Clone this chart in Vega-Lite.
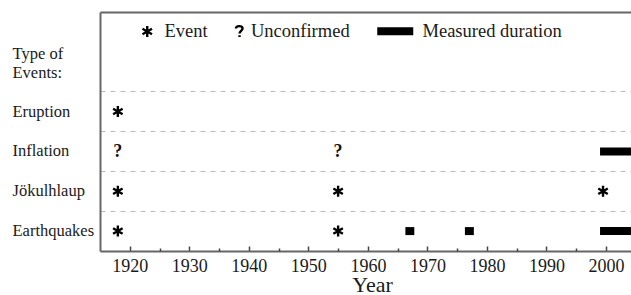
{
  "$schema": "https://vega.github.io/schema/vega-lite/v6.json",
  "autosize": {"type": "none"},
  "padding": {"left": 100, "top": 12, "right": 0, "bottom": 44},
  "width": 531,
  "height": 239,
  "datasets": {
    "events": [
      {"type": "Eruption", "year": 1918, "kind": "Event"},
      {"type": "Jökulhlaup", "year": 1918, "kind": "Event"},
      {"type": "Earthquakes", "year": 1918, "kind": "Event"},
      {"type": "Jökulhlaup", "year": 1955, "kind": "Event"},
      {"type": "Earthquakes", "year": 1955, "kind": "Event"},
      {"type": "Jökulhlaup", "year": 1999.5, "kind": "Event"}
    ],
    "unconfirmed": [
      {"type": "Inflation", "year": 1918, "kind": "Unconfirmed"},
      {"type": "Inflation", "year": 1955, "kind": "Unconfirmed"}
    ],
    "durations": [
      {"type": "Inflation", "start": 1999, "end": 2005, "kind": "Measured duration"},
      {"type": "Earthquakes", "start": 1966.3, "end": 1967.8, "kind": "Measured duration"},
      {"type": "Earthquakes", "start": 1976.3, "end": 1977.8, "kind": "Measured duration"},
      {"type": "Earthquakes", "start": 1999, "end": 2005, "kind": "Measured duration"}
    ]
  },
  "layer": [
    {
      "data": {"name": "events"},
      "mark": {"type": "point", "filled": false, "strokeWidth": 2.4, "color": "black", "size": 121, "opacity": 1},
      "encoding": {
        "x": {
          "field": "year", "type": "quantitative",
          "scale": {"domain": [1915, 2004.2], "nice": false, "zero": false},
          "axis": {
            "orient": "bottom",
            "values": [1920, 1930, 1940, 1950, 1960, 1970, 1980, 1990, 2000],
            "format": "d",
            "grid": false,
            "tickSize": -5, "tickColor": "#444", "tickWidth": 1.5,
            "domainColor": "#666", "domainWidth": 2,
            "labelFont": "Liberation Serif", "labelFontSize": 18, "labelColor": "#1a1a1a",
            "labelPadding": 11,
            "title": "Year", "titleFont": "Liberation Serif", "titleFontSize": 22, "titleFontWeight": "normal",
            "titleColor": "#1a1a1a", "titleX": 272, "titleY": 40.5, "titleBaseline": "alphabetic"
          }
        },
        "y": {
          "field": "type", "type": "nominal",
          "scale": {"type": "band", "domain": ["legend", "heading", "Eruption", "Inflation", "Jökulhlaup", "Earthquakes"], "paddingInner": 0, "paddingOuter": 0},
          "axis": {
            "values": ["Eruption", "Inflation", "Jökulhlaup", "Earthquakes"],
            "bandPosition": 0,
            "grid": true, "gridDash": [5, 5], "gridColor": "#bbb", "gridWidth": 1,
            "ticks": false,
            "domainColor": "#666", "domainWidth": 2,
            "labelAlign": "left", "labelPadding": 88, "labelOffset": 0,
            "labelFont": "Liberation Serif", "labelFontSize": 16.5, "labelColor": "#1a1a1a",
            "title": ["Type of", "Events:"], "titleAngle": 0, "titleAlign": "left", "titleBaseline": "alphabetic",
            "titleX": -88, "titleY": 46, "titleLineHeight": 19.5,
            "titleFont": "Liberation Serif", "titleFontSize": 16.5, "titleFontWeight": "normal", "titleColor": "#1a1a1a"
          }
        },
        "shape": {
          "field": "kind", "type": "nominal",
          "scale": {
            "domain": ["Event", "Unconfirmed"],
            "range": [
              "M0,-1L0,1M-0.866,-0.5L0.866,0.5M-0.866,0.5L0.866,-0.5",
              "M0.4,-0.5C0.4,-1.1 1.6,-1.1 1.6,-0.5C1.6,-0.1 1.05,-0.05 1.05,0.4M1.05,0.7L1.05,1.05"
            ]
          },
          "legend": {
            "orient": "none", "legendX": 38, "legendY": 10, "direction": "horizontal",
            "title": null, "padding": 0,
            "symbolSize": 121, "symbolStrokeWidth": 2.4, "symbolStrokeColor": "black", "symbolFillColor": "transparent",
            "labelFont": "Liberation Serif", "labelFontSize": 18.5, "labelColor": "#1a1a1a",
            "labelOffset": 8, "columnPadding": 16.5
          }
        }
      }
    },
    {
      "data": {"name": "unconfirmed"},
      "mark": {"type": "text", "text": "?", "font": "Liberation Serif", "fontWeight": "bold", "fontSize": 18, "color": "#111", "baseline": "middle", "align": "center", "dy": 1},
      "encoding": {
        "x": {
          "field": "year", "type": "quantitative",
          "axis": {
            "orient": "bottom",
            "values": [1925, 1935, 1945, 1955, 1965, 1975, 1985, 1995],
            "labels": false, "domain": false, "grid": false, "title": null,
            "tickSize": -3, "tickColor": "#444", "tickWidth": 1.5
          }
        },
        "y": {"field": "type", "type": "nominal"}
      }
    },
    {
      "data": {"name": "durations"},
      "mark": {"type": "bar", "size": 8, "clip": true},
      "encoding": {
        "x": {
          "field": "start", "type": "quantitative",
          "axis": {
            "orient": "top", "labels": false, "ticks": false, "grid": false, "title": null,
            "domain": true, "domainColor": "#666", "domainWidth": 2
          }
        },
        "x2": {"field": "end"},
        "y": {"field": "type", "type": "nominal"},
        "color": {
          "field": "kind", "type": "nominal",
          "scale": {"domain": ["Measured duration"], "range": ["black"]},
          "legend": {
            "orient": "none", "legendX": 286, "legendY": 10, "direction": "horizontal",
            "title": null, "padding": 0,
            "symbolType": "M-3.6,-0.8H3.6V0.8H-3.6Z", "symbolSize": 100, "symbolStrokeWidth": 0, "symbolOpacity": 1,
            "labelFont": "Liberation Serif", "labelFontSize": 18.5, "labelColor": "#1a1a1a",
            "labelOffset": 18
          }
        }
      }
    }
  ],
  "resolve": {"axis": {"x": "independent"}},
  "config": {
    "view": {"stroke": null},
    "font": "Liberation Serif"
  }
}
